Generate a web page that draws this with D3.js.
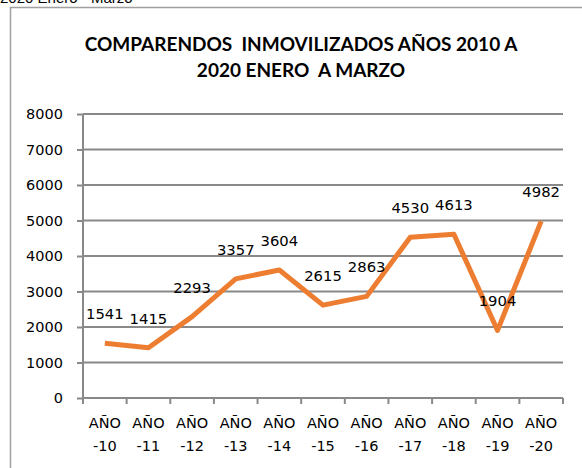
<!DOCTYPE html>
<html><head><meta charset="utf-8">
<script src="https://cdn.jsdelivr.net/npm/d3@7"></script>
<style>body{margin:0;background:#fff}svg{display:block}</style>
</head><body>
<script>
const categories = ["AÑO -10","AÑO -11","AÑO -12","AÑO -13","AÑO -14","AÑO -15","AÑO -16","AÑO -17","AÑO -18","AÑO -19","AÑO -20"];
const values = [1541,1415,2293,3357,3604,2615,2863,4530,4613,1904,4982];
const yTicks = [0,1000,2000,3000,4000,5000,6000,7000,8000];
const titleLines = ["COMPARENDOS  INMOVILIZADOS AÑOS 2010 A","2020 ENERO  A MARZO"];

const W = 582, H = 468;
const m = {left:83, right:19, top:114, bottom:70};
const svg = d3.select("body").append("svg").attr("width",W).attr("height",H);
const font = "'DejaVu Sans', sans-serif";
const grid = "#898989";

// partial text at top (cut off in the reference too)
svg.append("text").attr("x",0).attr("y",3).attr("font-family","'Liberation Sans',sans-serif")
  .attr("font-size",15).attr("fill","#000").text("2020 Enero - Marzo");

// chart frame
svg.append("path").attr("d",`M10.5,${H} V7.5 H${W}`).attr("fill","none").attr("stroke","#a0a0a0").attr("stroke-width",1.5);

// title
svg.append("g").selectAll("text").data(titleLines).join("text")
  .attr("x",301).attr("y",(d,i)=>51+i*26).attr("text-anchor","middle")
  .style("white-space","pre")
  .attr("font-family","Lato, 'Open Sans', sans-serif").attr("font-weight","bold")
  .attr("font-size",19).attr("fill","#000").text(d=>d);

const x = d3.scaleBand().domain(categories).range([m.left, W-m.right]);
const y = d3.scaleLinear().domain([0,8000]).range([H-m.bottom, m.top]);

// gridlines
svg.append("g").selectAll("line").data(yTicks.filter(d=>d>0)).join("line")
  .attr("x1",m.left).attr("x2",W-m.right).attr("y1",d=>y(d)).attr("y2",d=>y(d))
  .attr("stroke",grid).attr("stroke-width",2);

// y axis
const yAxis = svg.append("g").attr("transform",`translate(${m.left},0)`)
  .call(d3.axisLeft(y).tickValues(yTicks).tickSize(6).tickPadding(14).tickFormat(d3.format("d")));
yAxis.select(".domain").attr("stroke",grid).attr("stroke-width",2).attr("d",`M0,${y(8000)}V${y(0)}`);
yAxis.selectAll(".tick line").attr("stroke",grid).attr("stroke-width",2);
yAxis.selectAll(".tick text").attr("font-family",font).attr("font-size",14.5).attr("fill","#000");

// x axis
const xg = svg.append("g").attr("transform",`translate(0,${y(0)})`);
xg.append("line").attr("x1",m.left).attr("x2",W-m.right).attr("stroke",grid).attr("stroke-width",2);
const bounds = categories.map(c=>x(c)).concat([x(categories[categories.length-1])+x.bandwidth()]);
xg.selectAll("line.t").data(bounds).join("line").attr("class","t")
  .attr("x1",d=>d).attr("x2",d=>d).attr("y1",0).attr("y2",6).attr("stroke",grid).attr("stroke-width",2);
const xl = xg.selectAll("text.c").data(categories).join("text").attr("class","c")
  .attr("x",d=>x(d)+x.bandwidth()/2).attr("text-anchor","middle")
  .attr("font-family",font).attr("font-size",14.5).attr("fill","#000");
xl.append("tspan").attr("x",d=>x(d)+x.bandwidth()/2).attr("y",30).text(d=>d.split(" ")[0]);
xl.append("tspan").attr("x",d=>x(d)+x.bandwidth()/2).attr("y",53).text(d=>d.split(" ")[1]);

// line
const cx = d=>x(d)+x.bandwidth()/2;
svg.append("path").datum(values)
  .attr("d",d3.line().x((d,i)=>cx(categories[i])).y(d=>y(d)))
  .attr("fill","none").attr("stroke","#ED7D31").attr("stroke-width",5).attr("stroke-linejoin","round");

// labels
svg.append("g").selectAll("text").data(values).join("text")
  .attr("x",(d,i)=>cx(categories[i])).attr("y",d=>y(d)-24).attr("text-anchor","middle")
  .attr("font-family",font).attr("font-size",14.8).attr("fill","#000").text(d=>d);
</script>
</body></html>
